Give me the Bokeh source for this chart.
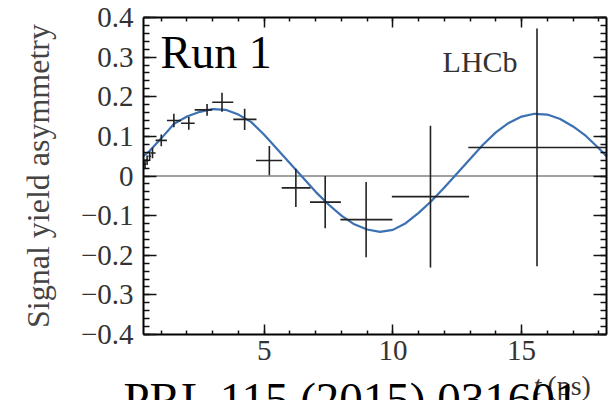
from bokeh.plotting import figure
from bokeh.models import FixedTicker, LinearAxis, Label, Range1d
from bokeh.embed import file_html
from bokeh.resources import INLINE

# ---- data ----
t_pts = [0.37, 0.45, 0.55, 0.66, 1.00, 1.49, 2.07, 2.78, 3.36, 4.24, 5.20, 6.23, 7.37, 8.96, 11.46, 15.60]
t_lo = [0.33, 0.41, 0.50, 0.58, 0.78, 1.22, 1.77, 2.30, 2.98, 3.80, 4.68, 5.68, 6.78, 7.96, 9.96, 12.93]
t_hi = [0.41, 0.50, 0.60, 0.78, 1.22, 1.77, 2.30, 2.98, 3.80, 4.70, 5.70, 6.80, 7.98, 9.98, 12.96, 18.30]
asym = [0.030, 0.040, 0.050, 0.058, 0.090, 0.140, 0.133, 0.167, 0.186, 0.143, 0.039, -0.030, -0.066, -0.110, -0.052, 0.072]
asym_err = [0.012, 0.012, 0.012, 0.013, 0.015, 0.017, 0.016, 0.015, 0.024, 0.027, 0.037, 0.048, 0.066, 0.095, 0.179, 0.300]

curve_t = [0.3, 0.5, 1.0, 1.5, 2.0, 2.5, 3.0, 3.5, 4.0, 4.5, 5.0, 5.5, 6.0, 6.5, 7.0, 7.5, 8.0, 8.5, 9.0,
           9.5, 10.0, 10.5, 11.0, 11.5, 12.0, 12.5, 13.0, 13.5, 14.0, 14.5, 15.0, 15.5, 16.0, 16.5, 17.0,
           17.5, 18.0, 18.3]
curve_v = [0.050, 0.060, 0.095, 0.132, 0.150, 0.162, 0.169, 0.167, 0.155, 0.136, 0.104, 0.068, 0.032,
           -0.004, -0.040, -0.072, -0.100, -0.122, -0.135, -0.141, -0.136, -0.119, -0.093, -0.063,
           -0.029, 0.007, 0.043, 0.079, 0.110, 0.134, 0.150, 0.157, 0.155, 0.144, 0.125, 0.101, 0.070, 0.050]

x_ticks = [5, 10, 15]
x_tick_labels = ["5", "10", "15"]
y_ticks = [-0.4, -0.3, -0.2, -0.1, 0.0, 0.1, 0.2, 0.3, 0.4]
y_tick_labels = ["\u22120.4", "\u22120.3", "\u22120.2", "\u22120.1", "0", "0.1", "0.2", "0.3", "0.4"]

# axis extent of the boxed plot
X_START, X_END = 0.31, 18.3
Y_START, Y_END = -0.4, 0.4

# ---- layout (pixels) ----
W, H = 610, 400
BOX_L, BOX_R, BOX_T, BOX_B = 143, 606, 17, 334
sx = (BOX_R - BOX_L) / (X_END - X_START)
sy = (BOX_B - BOX_T) / (Y_END - Y_START)
xr = Range1d(X_START - BOX_L / sx, X_END + (W - BOX_R) / sx)
yr = Range1d(Y_START - (H - BOX_B) / sy, Y_END + BOX_T / sy)

FONT = "Liberation Serif"
INK = "#222222"

p = figure(width=W, height=H, output_backend="svg", toolbar_location=None,
           x_range=xr, y_range=yr, min_border=0,
           x_axis_location=None, y_axis_location=None)
p.grid.visible = False
p.outline_line_color = None
p.background_fill_color = "white"
p.border_fill_color = "white"

x_minor = [float(k) for k in range(1, 19)]
y_minor = [round(-0.4 + 0.02 * k, 2) for k in range(41)]


def make_axis(kind, side, loc):
    ax = LinearAxis(fixed_location=loc)
    if kind == "x":
        ax.ticker = FixedTicker(ticks=x_ticks, minor_ticks=x_minor)
        ax.major_label_overrides = {t: s for t, s in zip(x_ticks, x_tick_labels)}
        ax.bounds = (X_START, X_END)
        ax.major_tick_in = 10
        ax.minor_tick_in = 4
    else:
        ax.ticker = FixedTicker(ticks=y_ticks, minor_ticks=y_minor)
        ax.major_label_overrides = {t: s for t, s in zip(y_ticks, y_tick_labels)}
        ax.bounds = (Y_START, Y_END)
        ax.major_tick_in = 13
        ax.minor_tick_in = 6
    ax.major_tick_out = 0
    ax.minor_tick_out = 0
    ax.axis_line_color = "black"
    ax.axis_line_width = 2
    ax.major_tick_line_color = "#111111"
    ax.major_tick_line_width = 1.5
    ax.minor_tick_line_color = "#111111"
    ax.minor_tick_line_width = 1.5
    ax.major_label_text_font = FONT
    ax.major_label_text_font_size = "29px"
    ax.major_label_text_color = "#333333"
    if side in ("right", "above"):
        ax.major_label_text_font_size = "0px"
        ax.major_label_standoff = 0
    p.add_layout(ax, side)
    return ax


ax_b = make_axis("x", "below", Y_START)
ax_b.major_label_standoff = 6
ax_l = make_axis("y", "left", X_START)
ax_l.major_label_standoff = 10
ax_l.axis_label = "Signal yield asymmetry"
ax_l.axis_label_text_font = FONT
ax_l.axis_label_text_font_size = "32px"
ax_l.axis_label_text_font_style = "normal"
ax_l.axis_label_text_color = "#444444"
ax_l.axis_label_standoff = 22
make_axis("x", "above", Y_END)
make_axis("y", "right", X_END)

# zero line across the box
p.line([X_START, X_END], [0, 0], line_color="#444444", line_width=1.2)

p.line(curve_t, curve_v, line_color="#3b70b3", line_width=2.2)

y_lo = [v - e for v, e in zip(asym, asym_err)]
y_hi = [v + e for v, e in zip(asym, asym_err)]
p.segment(x0=t_lo, y0=asym, x1=t_hi, y1=asym, line_color=INK, line_width=1.6)
p.segment(x0=t_pts, y0=y_lo, x1=t_pts, y1=y_hi, line_color=INK, line_width=1.6)

p.add_layout(Label(x=0.97, y=0.311, text="Run 1", text_font=FONT, text_font_size="46px",
                   text_color="black", text_baseline="alphabetic"))
p.add_layout(Label(x=11.93, y=0.289, text="LHCb", text_font=FONT, text_font_size="30px",
                   text_color="#333333", text_baseline="alphabetic"))
p.add_layout(Label(x=15.46, y=-0.528, text="t", text_font=FONT, text_font_size="28px",
                   text_font_style="italic", text_color="#333333", text_baseline="alphabetic"))
p.add_layout(Label(x=16.0, y=-0.528, text="(ps)", text_font=FONT, text_font_size="28px",
                   text_color="#333333", text_baseline="alphabetic"))
p.add_layout(Label(x=-0.47, y=-0.562, text="PRL 115 (2015) 031601", text_font=FONT,
                   text_font_size="47px", text_color="black", text_baseline="alphabetic"))

open("out.html", "w").write(file_html(p, INLINE))
